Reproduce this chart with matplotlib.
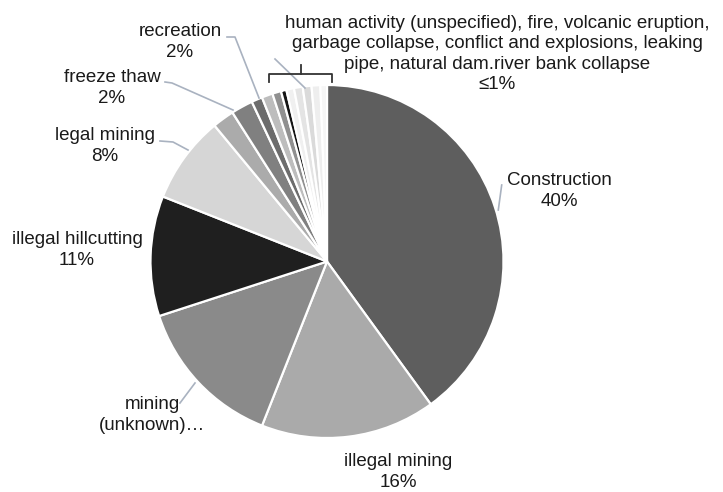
import matplotlib.pyplot as plt

plt.rcParams['font.family'] = ['Liberation Sans', 'DejaVu Sans']

W, H = 723, 492

# slice order runs clockwise from 12 o'clock
categories = ['Construction', 'illegal mining', 'mining (unknown)', 'illegal hillcutting',
              'legal mining', 'freeze thaw', 'recreation',
              'human activity (unspecified)', 'fire', 'volcanic eruption', 'garbage collapse',
              'conflict and explosions', 'leaking pipe', 'natural dam', 'river bank collapse',
              'other']
shares = [40, 16, 14, 11, 8, 2, 2, 1.0, 1.0, 0.8, 0.5, 0.7, 0.8, 0.8, 0.8, 0.6]
colors = ['#5e5e5e', '#aaaaaa', '#8a8a8a', '#1f1f1f', '#d6d6d6', '#ababab', '#808080',
          '#6c6c6c', '#bdbdbd', '#909090', '#141414', '#f0f0f0', '#e4e4e4', '#dadada',
          '#eeeeee', '#f6f6f6']

small_label = ('human activity (unspecified), fire, volcanic eruption,\n'
               'garbage collapse, conflict and explosions, leaking\n'
               'pipe, natural dam.river bank collapse\n\u22641%')

fig = plt.figure(figsize=(W / 100, H / 100), dpi=100)
ax = fig.add_axes([0, 0, 1, 1])


def yy(y):
    # pixel rows counted from the top
    return H - y


cx, cy, r = 327, 261.5, 176.5
ax.pie(shares, colors=colors, startangle=90, counterclock=False,
       center=(cx, yy(cy)), radius=r,
       wedgeprops=dict(edgecolor='white', linewidth=1.6))

ax.set_xlim(0, W)
ax.set_ylim(0, H)
ax.set_aspect('equal')
ax.axis('off')

txt = dict(fontsize=13.5, color='#1a1a1a', ha='center', va='center', linespacing=1.28)
ax.text(559, yy(191), 'Construction\n40%', **txt)
ax.text(398, yy(472), 'illegal mining\n16%', **txt)
ax.text(152, yy(415), 'mining\n(unknown)\u2026', **txt)
ax.text(77, yy(250), 'illegal hillcutting\n11%', **txt)
ax.text(105, yy(146), 'legal mining\n8%', **txt)
ax.text(112, yy(88), 'freeze thaw\n2%', **txt)
ax.text(180, yy(42), 'recreation\n2%', **txt)
ax.text(497, yy(54), small_label, **txt)

# leader lines
lead = dict(color='#a9b2c0', lw=1.2)
leaders = [
    [(501.7, 185), (498.3, 210)],
    [(180, 403), (195, 383)],
    [(160, 141), (173, 142), (188, 150)],
    [(165, 82), (172, 83), (233, 110)],
    [(227, 37), (235, 37), (259, 98)],
    [(275, 59), (305, 88)],
]
for pts in leaders:
    ax.plot([p[0] for p in pts], [yy(p[1]) for p in pts], **lead)

# bracket over the small slices
ax.plot([269, 269, 332, 332], [yy(82), yy(74), yy(74), yy(82)], color='#333333', lw=1.3)
ax.plot([301, 301], [yy(74), yy(65)], color='#333333', lw=1.3)

fig.savefig('out.png', dpi=100)
